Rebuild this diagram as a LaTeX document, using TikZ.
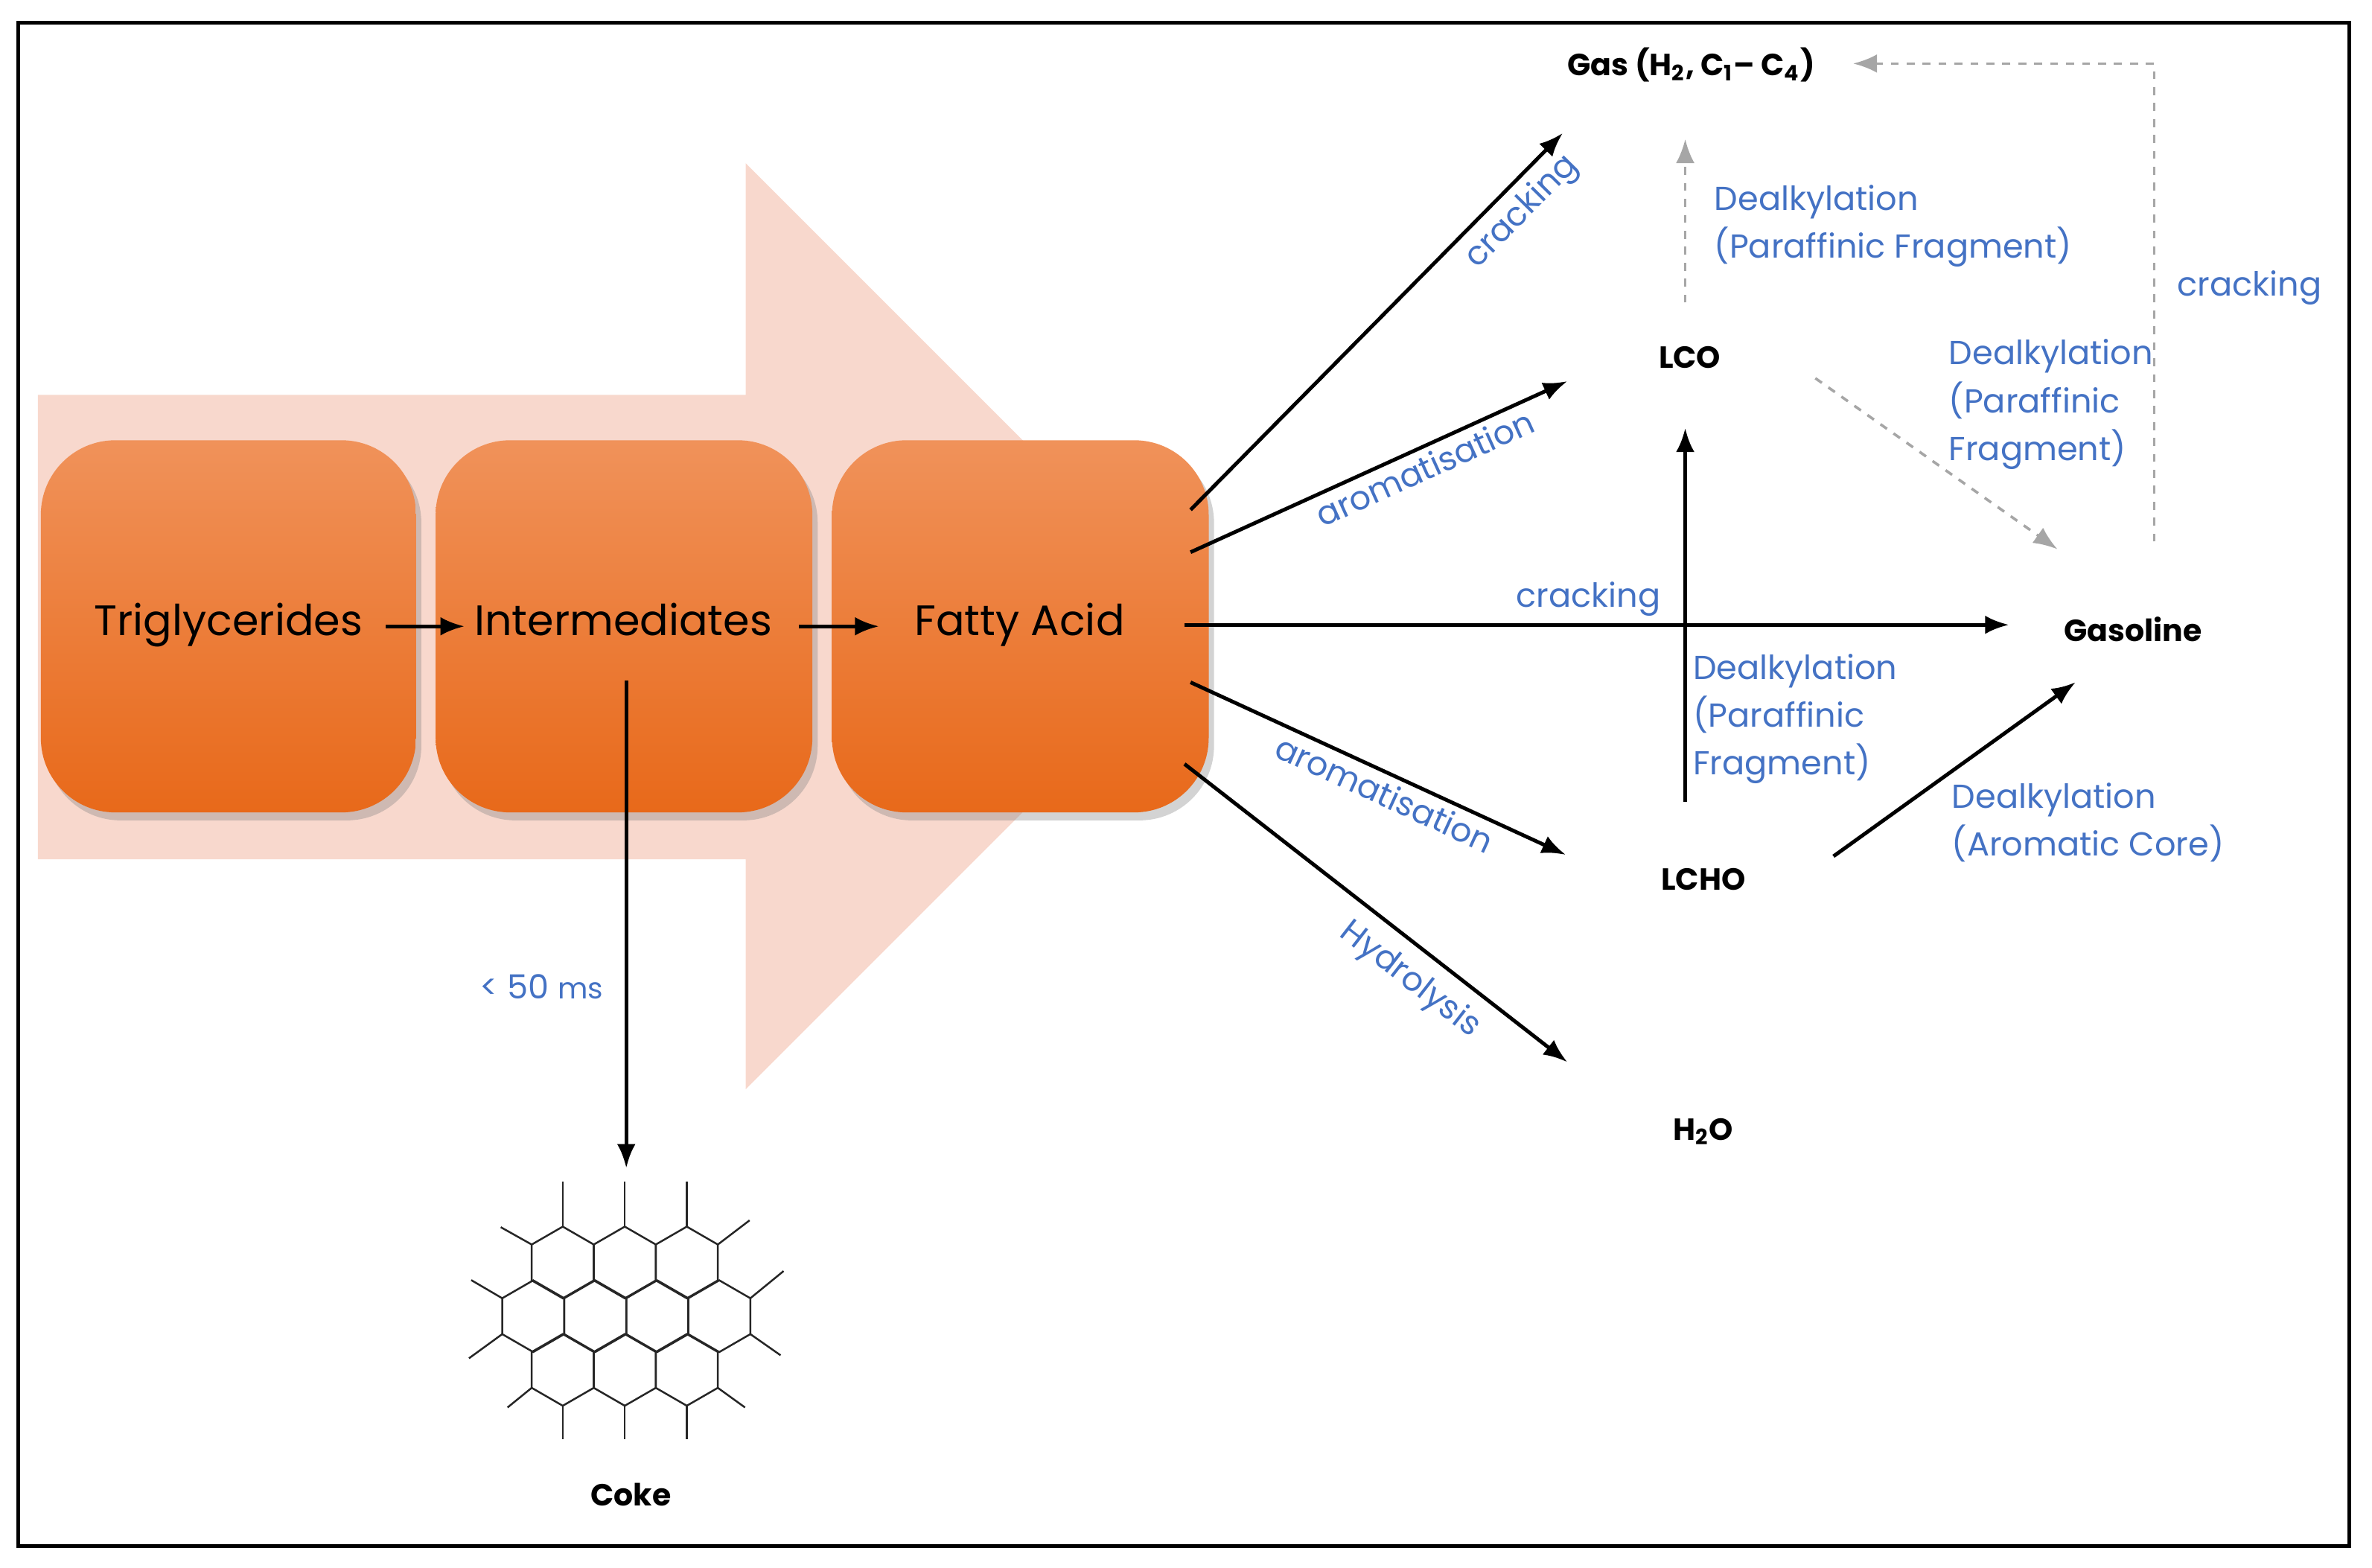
\documentclass[tikz,border=0pt]{standalone}
\usepackage{fontspec}
\setmainfont{Poppins}
\usetikzlibrary{shadows,arrows.meta}
\definecolor{lbl}{HTML}{4472C4}
\definecolor{pale}{HTML}{F8D8CD}
\definecolor{otop}{HTML}{F0925A}
\definecolor{obot}{HTML}{E8691A}
\tikzset{
 box/.style={rounded corners=28pt,top color=otop,bottom color=obot,draw=none,drop shadow={shadow xshift=2pt,shadow yshift=-3pt,opacity=0.35}},
 arr/.style={-{Latex[length=9pt,width=7pt]},line width=1.4pt,black},
 darr/.style={-{Latex[length=9pt,width=7pt]},line width=1pt,gray!70,dashed},
 lab/.style={text=lbl,font=\fontsize{12.5}{18}\selectfont,align=left},
 prod/.style={font=\fontsize{11.5}{13}\selectfont\bfseries},
 boxtxt/.style={font=\fontsize{16}{18}\selectfont,text height=12pt,text depth=4pt},
 hexl/.style={line width=0.7pt,black!85}
}
\begin{document}
\begin{tikzpicture}[x=0.02cm,y=-0.02cm]
\useasboundingbox (0,0) rectangle (1568,1036);
\draw[line width=1.5pt] (12,15) rectangle (1553,1022);
% big pale arrow
\fill[pale] (25,261) -- (493,261) -- (493,108) -- (799,414) -- (493,720) -- (493,568) -- (25,568) -- cycle;
% boxes
\path[box] (27,291) rectangle (275,537);
\path[box] (288,291) rectangle (537,537);
\path[box] (550,291) rectangle (799,537);
\node[boxtxt] (tri) at (151,413) {Triglycerides};
\node[boxtxt] (int) at (412,413) {Intermediates};
\node[boxtxt] (fa) at (674,413) {Fatty Acid};
\coordinate (a1) at (255,414); \coordinate (a2) at (307,414);
\coordinate (a3) at (528,414); \coordinate (a4) at (581,414);
\draw[arr] (a1) -- (a2);
\draw[arr] (a3) -- (a4);
% coke
\coordinate (c0) at (414,450); \coordinate (c1) at (414,772);
\draw[arr] (c0) -- (c1);
\node[lab] (ms) at (358,652) {<~50 {\fontsize{11}{12}\selectfont ms}};
\def\r{23.7}
\foreach \cx/\cy in {372/834.5,413/834.5,454/834.5,352.5/870,393.5/870,434.5/870,475.5/870,372/905.5,413/905.5,454/905.5}{
  \draw[hexl] (\cx,\cy) ++(30:\r) -- ++(150:\r) -- ++(210:\r) -- ++(270:\r) -- ++(330:\r) -- ++(30:\r) -- cycle;
}
\foreach \cx in {372,413,454}{
  \draw[hexl] (\cx,834.5-\r) -- ++(0,-30);
  \draw[hexl] (\cx,905.5+\r) -- ++(0,22);
}
\draw[hexl] (372-20.5,834.5-11.85) -- ++(-20.5,-11.5);
\draw[hexl] (454+20.5,834.5-11.85) -- ++(21,-16);
\draw[hexl] (352.5-20.5,870-11.85) -- ++(-20.5,-12);
\draw[hexl] (352.5-20.5,870+11.85) -- ++(-22,16);
\draw[hexl] (475.5+20.5,870-11.85) -- ++(22,-18);
\draw[hexl] (475.5+20.5,870+11.85) -- ++(20,14);
\draw[hexl] (372-20.5,905.5+11.85) -- ++(-16,13);
\draw[hexl] (454+20.5,905.5+11.85) -- ++(18,13);
\node[prod] (coke) at (417,988) {Coke};
% products
\node[prod] (gas) at (1118,43) {Gas (H\textsubscript{2}, C\textsubscript{1}– C\textsubscript{4})};
\node[prod] (lco) at (1117,236) {LCO};
\node[prod] (gasoline) at (1410,416) {Gasoline};
\node[prod] (lcho) at (1126,581) {LCHO};
\node[prod] (h2o) at (1126,748) {H\textsubscript{2}O};
% arrows from fatty acid
\coordinate (f1) at (787,337); \coordinate (t1) at (1033,88);
\coordinate (f2) at (787,365); \coordinate (t2) at (1036,252);
\coordinate (f3) at (783,413); \coordinate (t3) at (1328,413);
\coordinate (f4) at (787,451); \coordinate (t4) at (1035,565);
\coordinate (f5) at (783,505); \coordinate (t5) at (1036,702);
\draw[arr] (f1) -- node[lab,sloped,below,pos=0.84,inner sep=3pt] {cracking} (t1);
\draw[arr] (f2) -- node[lab,sloped,below,pos=0.6,inner sep=2pt] {aromatisation} (t2);
\draw[arr] (f3) -- (t3);
\node[lab] (ck) at (1050,396) {cracking};
\draw[arr] (f4) -- node[lab,sloped,below,pos=0.54,inner sep=2pt] {aromatisation} (t4);
\draw[arr] (f5) -- node[lab,sloped,below,pos=0.64,inner sep=5pt] {Hydrolysis} (t5);
% secondary
\coordinate (v0) at (1114,530); \coordinate (v1) at (1114,283);
\draw[arr] (v0) -- (v1);
\node[lab,anchor=north west,inner sep=0pt] (d1) at (1119,432) {Dealkylation\\(Paraffinic\\Fragment)};
\coordinate (g0) at (1114,200); \coordinate (g1) at (1114,92);
\draw[darr] (g0) -- (g1);
\node[lab,anchor=north west,inner sep=0pt] (d2) at (1133,122) {Dealkylation\\(Paraffinic Fragment)};
\coordinate (l0) at (1200,250); \coordinate (l1) at (1360,363);
\draw[darr] (l0) -- (l1);
\node[lab,anchor=north west,inner sep=0pt] (d3) at (1288,224) {Dealkylation\\(Paraffinic\\Fragment)};
\coordinate (s0) at (1424,358); \coordinate (s1) at (1424,42); \coordinate (s2) at (1225,42);
\draw[darr] (s0) -- (s1) -- (s2);
\node[lab] (ck2) at (1487,190) {cracking};
\coordinate (h0) at (1212,566); \coordinate (h1) at (1372,451);
\draw[arr] (h0) -- (h1);
\node[lab,anchor=north west,inner sep=0pt] (d4) at (1290,517) {Dealkylation\\(Aromatic Core)};
\end{tikzpicture}
\end{document}
